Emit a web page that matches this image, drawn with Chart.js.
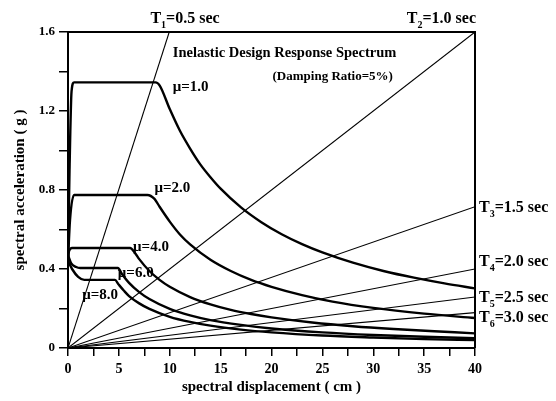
<!DOCTYPE html>
<html>
<head>
<meta charset="utf-8">
<script src="https://cdn.jsdelivr.net/npm/chart.js@4/dist/chart.umd.min.js"></script>
<style>
  html, body { margin: 0; padding: 0; background: #fff; }
  #wrap { width: 556px; height: 401px; }
</style>
</head>
<body>
<div id="wrap"><canvas id="spectrum" width="556" height="401"></canvas></div>
<script>
// inelastic design response spectrum, Sa (g) vs Sd (cm), damping 5%

const mu1Sd = [0, 0.15, 0.35, 0.6, 8.6, 9.0, 10, 11, 12, 13, 14, 15, 17, 19, 21, 23, 25, 28, 31, 34, 37, 40];
const mu1Sa = [0.44, 0.9, 1.30, 1.345, 1.345, 1.33, 1.21, 1.10, 1.01, 0.93, 0.865, 0.807, 0.712, 0.637, 0.576, 0.526, 0.484, 0.432, 0.39, 0.356, 0.327, 0.302];

const mu2Sd = [0, 0.2, 0.6, 7.8, 8.5, 9, 10, 11, 12, 14, 16, 18, 20, 23, 26, 30, 35, 40];
const mu2Sa = [0.44, 0.65, 0.775, 0.775, 0.755, 0.715, 0.64, 0.575, 0.525, 0.447, 0.39, 0.345, 0.31, 0.268, 0.235, 0.203, 0.174, 0.152];

const mu4Sd = [0, 0.1, 0.4, 6.1, 6.6, 7, 8, 9, 10, 12, 14, 16, 18, 20, 24, 28, 32, 36, 40];
const mu4Sa = [0.45, 0.49, 0.506, 0.506, 0.48, 0.45, 0.39, 0.345, 0.31, 0.258, 0.221, 0.193, 0.172, 0.155, 0.129, 0.11, 0.096, 0.085, 0.074];

const mu6Sd = [0, 0.3, 0.8, 1.2, 4.9, 5.3, 6, 7, 8, 10, 12, 14, 17, 20, 25, 30, 35, 40];
const mu6Sa = [0.47, 0.43, 0.41, 0.405, 0.405, 0.375, 0.33, 0.283, 0.248, 0.198, 0.165, 0.141, 0.117, 0.099, 0.079, 0.066, 0.057, 0.05];

const mu8Sd = [0, 0.4, 1.0, 1.6, 4.6, 5.0, 5.5, 6, 7, 8, 10, 12, 14, 17, 20, 25, 30, 35, 40];
const mu8Sa = [0.44, 0.40, 0.36, 0.345, 0.345, 0.32, 0.29, 0.263, 0.226, 0.198, 0.158, 0.132, 0.113, 0.093, 0.079, 0.063, 0.053, 0.045, 0.04];

// constant period lines from origin to where they leave the frame
const periodNames = ['T1', 'T2', 'T3', 'T4', 'T5', 'T6'];
const periodEndSd = [9.95, 40, 40, 40, 40, 40];
const periodEndSa = [1.6, 1.6, 0.715, 0.40, 0.258, 0.179];

const xTicks = [0, 5, 10, 15, 20, 25, 30, 35, 40];
const yTicks = [0, 0.4, 0.8, 1.2, 1.6];

// text drawn on the plot, in data coordinates
const notes = [
  { t: 'T', sub: '1', rest: '=0.5 sec', x: 8.1, y: 1.665 },
  { t: 'T', sub: '2', rest: '=1.0 sec', x: 33.3, y: 1.665 },
  { t: 'T', sub: '3', rest: '=1.5 sec', x: 40.4, y: 0.709 },
  { t: 'T', sub: '4', rest: '=2.0 sec', x: 40.4, y: 0.435 },
  { t: 'T', sub: '5', rest: '=2.5 sec', x: 40.4, y: 0.253 },
  { t: 'T', sub: '6', rest: '=3.0 sec', x: 40.4, y: 0.152 },
  { t: 'μ=1.0', x: 10.3, y: 1.32 },
  { t: 'μ=2.0', x: 8.5, y: 0.81 },
  { t: 'μ=4.0', x: 6.4, y: 0.51 },
  { t: 'μ=6.0', x: 4.9, y: 0.38 },
  { t: 'μ=8.0', x: 1.4, y: 0.27 }
];

const serif = '"Liberation Serif", "Times New Roman", serif';

function pts(xs, ys) {
  return xs.map((x, i) => ({ x: x, y: ys[i] }));
}

const curves = [
  pts(mu1Sd, mu1Sa), pts(mu2Sd, mu2Sa), pts(mu4Sd, mu4Sa), pts(mu6Sd, mu6Sa), pts(mu8Sd, mu8Sa)
].map(d => ({
  data: d,
  borderColor: '#000',
  borderWidth: 2.4,
  pointRadius: 0,
  showLine: true,
  cubicInterpolationMode: 'monotone',
  order: 1
}));

const periods = periodNames.map((n, i) => ({
  label: n,
  data: [{ x: 0, y: 0 }, { x: periodEndSd[i], y: periodEndSa[i] }],
  borderColor: '#000',
  borderWidth: 1.1,
  pointRadius: 0,
  showLine: true,
  order: 2
}));

const framePlugin = {
  id: 'frame',
  afterDraw(chart) {
    const { ctx, chartArea: a } = chart;
    ctx.save();
    ctx.strokeStyle = '#000';
    ctx.lineWidth = 2;
    ctx.beginPath();
    ctx.moveTo(a.left, a.top);
    ctx.lineTo(a.right, a.top);
    ctx.lineTo(a.right, a.bottom);
    ctx.stroke();
    ctx.restore();
  }
};

const notesPlugin = {
  id: 'notes',
  afterDraw(chart) {
    const { ctx } = chart;
    const xs = chart.scales.x, ys = chart.scales.y;
    ctx.save();
    ctx.fillStyle = '#000';
    ctx.textBaseline = 'middle';
    ctx.textAlign = 'left';
    notes.forEach(n => {
      let px = xs.getPixelForValue(n.x);
      const py = ys.getPixelForValue(n.y);
      const big = n.sub ? 16 : 15;
      ctx.font = 'bold ' + big + 'px ' + serif;
      ctx.fillText(n.t, px, py);
      if (n.sub) {
        px += ctx.measureText(n.t).width;
        ctx.font = 'bold 10px ' + serif;
        ctx.fillText(n.sub, px, py + 6);
        px += ctx.measureText(n.sub).width;
        ctx.font = 'bold ' + big + 'px ' + serif;
        ctx.fillText(n.rest, px, py);
      }
    });
    // heading
    ctx.font = 'bold 14.5px ' + serif;
    ctx.fillText('Inelastic Design Response Spectrum', xs.getPixelForValue(10.3), ys.getPixelForValue(1.49));
    ctx.font = 'bold 13px ' + serif;
    ctx.fillText('(Damping Ratio=5%)', xs.getPixelForValue(20.1), ys.getPixelForValue(1.372));
    ctx.restore();
  }
};

new Chart(document.getElementById('spectrum'), {
  type: 'scatter',
  data: { datasets: curves.concat(periods) },
  options: {
    responsive: false,
    animation: false,
    events: [],
    layout: { padding: { top: 32, right: 81, left: 0, bottom: 0 } },
    plugins: { legend: { display: false }, tooltip: { enabled: false } },
    scales: {
      x: {
        type: 'linear',
        min: 0,
        max: 40,
        afterFit(s) { s.height = 53; },
        afterBuildTicks(s) {
          s.ticks = [];
          for (let v = 0; v <= 40; v += 2.5) s.ticks.push({ value: v });
        },
        ticks: {
          color: '#000',
          font: { family: serif, size: 14, weight: 'bold' },
          padding: 5,
          maxRotation: 0,
          autoSkip: false,
          callback: v => xTicks.includes(v) ? String(v) : ''
        },
        grid: { drawOnChartArea: false, drawTicks: true, tickLength: 8, color: '#000', lineWidth: 1.5 },
        border: { display: true, color: '#000', width: 2 },
        title: {
          display: true,
          text: 'spectral displacement ( cm )',
          color: '#000',
          font: { family: serif, size: 15, weight: 'bold' },
          padding: { top: 0, bottom: 5 }
        }
      },
      y: {
        type: 'linear',
        min: 0,
        max: 1.6,
        afterFit(s) { s.width = 68; },
        afterBuildTicks(s) {
          s.ticks = [];
          for (let k = 0; k <= 8; k++) s.ticks.push({ value: k * 0.2 });
        },
        ticks: {
          color: '#000',
          font: { family: serif, size: 13, weight: 'bold' },
          padding: 4,
          autoSkip: false,
          callback: v => {
            const r = Math.round(v * 10) / 10;
            return yTicks.includes(r) ? String(r) : '';
          }
        },
        grid: { drawOnChartArea: false, drawTicks: true, tickLength: 9, color: '#000', lineWidth: 1.5 },
        border: { display: true, color: '#000', width: 2 },
        title: {
          display: true,
          text: 'spectral acceleration ( g )',
          color: '#000',
          font: { family: serif, size: 15, weight: 'bold' },
          padding: { top: 11, bottom: 0 }
        }
      }
    }
  },
  plugins: [framePlugin, notesPlugin]
});
</script>
</body>
</html>
